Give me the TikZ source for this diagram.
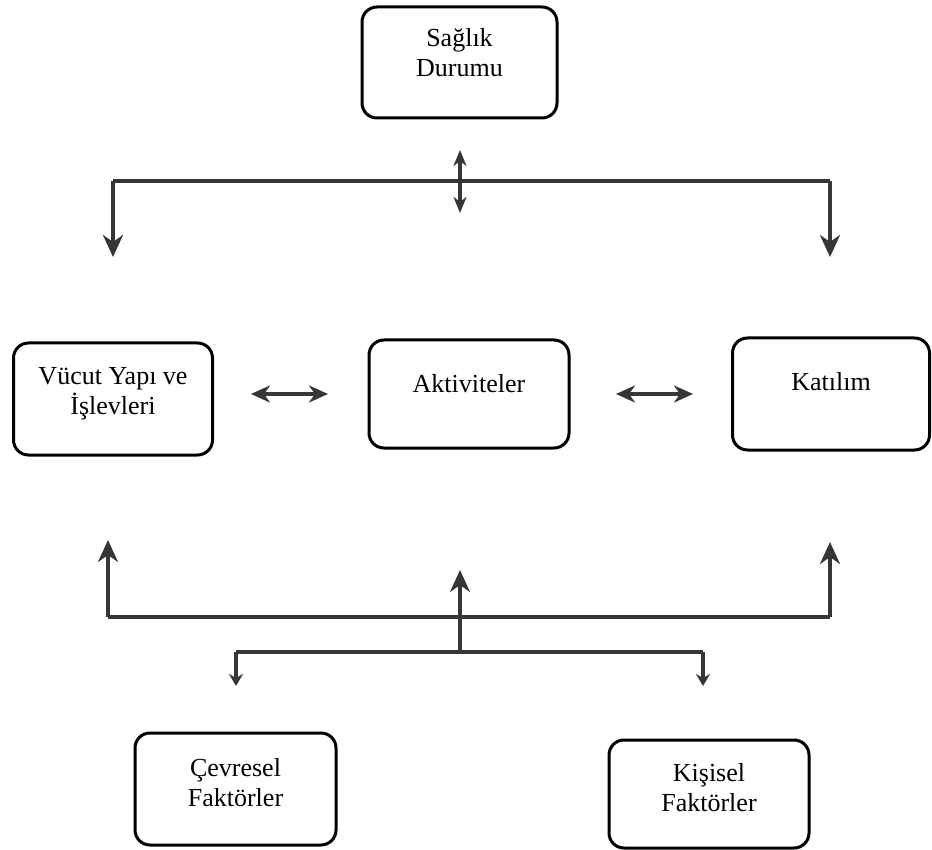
\documentclass[tikz,border=0pt]{standalone}
\usepackage{fontspec}
\setmainfont{Liberation Serif}
\usetikzlibrary{arrows.meta}
\definecolor{arrowgray}{HTML}{363636}
\begin{document}
\begin{tikzpicture}[x=1pt,y=-1pt,
  box/.style={draw=black,line width=3pt,rounded corners=15pt,inner sep=0pt},
  lbl/.style={font=\fontsize{26}{30}\selectfont,align=center,anchor=base,inner sep=0pt},
  conn/.style={draw=arrowgray,line width=3.5pt},
  bighead/.style={-{Stealth[length=22pt,width=20pt,inset=7pt]}},
  midhead/.style={{Stealth[length=19pt,width=17pt,inset=6pt]}-{Stealth[length=19pt,width=17pt,inset=6pt]}},
  tophead/.style={{Stealth[length=16pt,width=13pt,inset=5pt]}-{Stealth[length=16pt,width=13pt,inset=5pt]}},
  smallhead/.style={-{Stealth[length=12pt,width=14pt,inset=4pt]}}
]
\useasboundingbox (0,0) rectangle (932,850);

% boxes
\node[box,minimum width=195pt,minimum height=111pt] (saglik) at (459.5,62.5) {};
\node[box,minimum width=199pt,minimum height=112pt] (vucut) at (113,399) {};
\node[box,minimum width=200pt,minimum height=108pt] (aktiv) at (469,394) {};
\node[box,minimum width=197pt,minimum height=112pt] (katilim) at (831,394) {};
\node[box,minimum width=201pt,minimum height=112pt] (cevre) at (235.5,789) {};
\node[box,minimum width=200pt,minimum height=108pt] (kisi) at (709,794) {};

% labels (anchor base = baseline of last line)
\node[lbl] (tsaglik) at (459.5,77) {Sağlık\\Durumu};
\node[lbl] (tvucut) at (113,414) {Vücut Yapı ve\\İşlevleri};
\node[lbl] (taktiv) at (469,392) {Aktiviteler};
\node[lbl] (tkatilim) at (831,390) {Katılım};
\node[lbl] (tcevre) at (235.5,806) {Çevresel\\Faktörler};
\node[lbl] (tkisi) at (709,811) {Kişisel\\Faktörler};

% coordinates
\coordinate (tl) at (113,181);
\coordinate (tr) at (830,181);
\coordinate (tld) at (113,257);
\coordinate (trd) at (830,257);
\coordinate (tdu) at (460,150);
\coordinate (tdd) at (460,213);
\coordinate (ml1) at (251,394);
\coordinate (ml2) at (328,394);
\coordinate (mr1) at (616,394);
\coordinate (mr2) at (693,394);
\coordinate (bl) at (108,617);
\coordinate (br) at (830,617);
\coordinate (blu) at (108,540);
\coordinate (bru) at (830,542);
\coordinate (bmb) at (460,652);
\coordinate (bmu) at (460,570);
\coordinate (ll) at (236,652);
\coordinate (lr) at (703,652);
\coordinate (lld) at (236,686);
\coordinate (lrd) at (703,686);

% top connectors
\draw[conn] (tl) -- (tr);
\draw[conn,bighead] (tl) -- (tld);
\draw[conn,bighead] (tr) -- (trd);
\draw[conn,tophead] (tdu) -- (tdd);

% middle connectors
\draw[conn,midhead] (ml1) -- (ml2);
\draw[conn,midhead] (mr1) -- (mr2);

% bottom connectors
\draw[conn] (bl) -- (br);
\draw[conn,bighead] (bl) -- (blu);
\draw[conn,bighead] (br) -- (bru);
\draw[conn,bighead] (bmb) -- (bmu);
\draw[conn] (ll) -- (lr);
\draw[conn,smallhead] (ll) -- (lld);
\draw[conn,smallhead] (lr) -- (lrd);
\end{tikzpicture}
\end{document}
